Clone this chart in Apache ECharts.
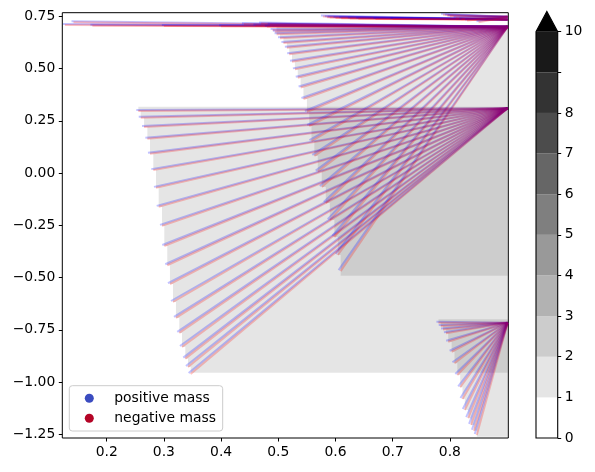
<!DOCTYPE html>
<html>
<head>
<meta charset="utf-8">
<script src="https://cdn.jsdelivr.net/npm/echarts@6/dist/echarts.min.js"></script>
<style>html,body{margin:0;padding:0;background:#fff}#c{width:595px;height:472px}</style>
</head>
<body>
<div id="c"></div>
<script>
// ---------- data ----------
const xTicks = [0.2, 0.3, 0.4, 0.5, 0.6, 0.7, 0.8];
const yTicks = [-1.25, -1.0, -0.75, -0.5, -0.25, 0.0, 0.25, 0.5, 0.75];
const cbarLevels = [0, 1, 2, 3, 4, 5, 6, 7, 8, 9, 10];
const cbarTickLabels = ['0', '1', '2', '3', '4', '5', '6', '7', '8', '', '10'];
const cbarColors = ['#ffffff', '#e5e5e5', '#cccccc', '#b2b2b2', '#999999', '#7f7f7f', '#666666', '#4c4c4c', '#333333', '#191919'];
const cbarExtendColor = '#000000';
const seriesNames = ['positive mass', 'negative mass'];

// fan A (top) : start points converging to hubA
const fanATopX = [0.127, 0.142, 0.175, 0.300, 0.400, 0.440, 0.460, 0.470, 0.480, 0.485, 0.490, 0.494];
const fanATopY = [0.708, 0.722, 0.705, 0.703, 0.702, 0.712, 0.706, 0.715, 0.700, 0.710, 0.685, 0.676];
const fanAX = [0.497, 0.503, 0.509, 0.515, 0.519, 0.524, 0.529, 0.534, 0.539, 0.544, 0.550, 0.554, 0.558, 0.563, 0.569, 0.576, 0.583, 0.590, 0.598, 0.604, 0.609];
const fanAY = [0.664, 0.645, 0.622, 0.600, 0.568, 0.533, 0.496, 0.456, 0.409, 0.354, 0.292, 0.225, 0.153, 0.082, 0.007, -0.067, -0.143, -0.225, -0.306, -0.392, -0.469];
const hubA = [0.901, 0.700];

// fan B (middle)
const fanBX = [0.2553, 0.2595, 0.2653, 0.2711, 0.2757, 0.2815, 0.2862, 0.2909, 0.2967, 0.3007, 0.3059, 0.3106, 0.3159, 0.3211, 0.3269, 0.3316, 0.3374, 0.3421, 0.3468];
const fanBY = [0.297, 0.265, 0.220, 0.164, 0.092, 0.014, -0.071, -0.162, -0.253, -0.349, -0.441, -0.531, -0.617, -0.693, -0.765, -0.832, -0.888, -0.928, -0.961];
const hubB = [0.901, 0.310];

// fan C (bottom)
const fanCX = [0.780, 0.784, 0.788, 0.793, 0.797, 0.803, 0.808, 0.813, 0.818, 0.822, 0.826, 0.832, 0.837, 0.842, 0.847];
const fanCY = [-0.716, -0.732, -0.748, -0.767, -0.807, -0.855, -0.910, -0.966, -1.025, -1.081, -1.134, -1.173, -1.205, -1.233, -1.253];
const hubC = [0.901, -0.716];

// small clusters along the top edge
const fanDX = [0.578, 0.585, 0.590, 0.600, 0.610, 0.625, 0.640, 0.670, 0.700];
const fanDY = [0.749, 0.746, 0.744, 0.742, 0.741, 0.739, 0.738, 0.737, 0.737];
const hubD = [0.901, 0.735];
const fanEX = [0.788, 0.795, 0.800, 0.810, 0.820, 0.830, 0.850];
const fanEY = [0.757, 0.754, 0.750, 0.742, 0.736, 0.730, 0.722];
const hubE = [0.901, 0.748];

// filled density regions (contour bands, level counts)
const regionTopY = [0.700, 0.317, -0.700];
const regionBotY = [-0.491, -0.955, -1.262];

// ---------- build ----------
function fanLines(xs, ys, hub) {
  return xs.map((x, i) => [x, ys[i], hub[0], hub[1]]);
}
const lineData = [].concat(
  fanLines(fanATopX, fanATopY, hubA),
  fanLines(fanAX, fanAY, hubA),
  fanLines(fanBX, fanBY, hubB),
  fanLines(fanCX, fanCY, hubC),
  fanLines(fanDX, fanDY, hubD),
  fanLines(fanEX, fanEY, hubE)
);

function stairs(xs, ys, top, bot, xr) {
  const pts = [[xr, top], [xs[0], top]];
  for (let i = 0; i < xs.length; i++) {
    if (i > 0) pts.push([xs[i], ys[i - 1]]);
    pts.push([xs[i], ys[i]]);
  }
  pts.push([xs[xs.length - 1], bot]);
  pts.push([xr, bot]);
  return pts;
}
const regionPolys = [
  stairs(fanAX, fanAY, regionTopY[0], regionBotY[0], hubA[0]),
  stairs(fanBX, fanBY, regionTopY[1], regionBotY[1], hubB[0]),
  stairs(fanCX, fanCY, regionTopY[2], regionBotY[2], hubC[0])
];

const FONT = 'DejaVu Sans';
const fmtY = v => (v < 0 ? '\u2212' : '') + Math.abs(v).toFixed(2);

// each trajectory: positive-mass (blue) and negative-mass (red) copies, drawn interleaved
function pairRenderer(params, api) {
  const p1 = api.coord([api.value(0), api.value(1)]);
  const p2 = api.coord([api.value(2), api.value(3)]);
  return {
    type: 'group',
    silent: true,
    children: [
      { type: 'line', shape: { x1: p1[0] - 2, y1: p1[1] - 1, x2: p2[0], y2: p2[1] }, style: { stroke: '#0000ff', lineWidth: 2, opacity: 0.24 } },
      { type: 'line', shape: { x1: p1[0], y1: p1[1], x2: p2[0], y2: p2[1] }, style: { stroke: '#ff0000', lineWidth: 2, opacity: 0.24 } }
    ]
  };
}

const chart = echarts.init(document.getElementById('c'), null, { renderer: 'canvas' });
chart.setOption({
  animation: false,
  backgroundColor: '#ffffff',
  textStyle: { fontFamily: FONT },
  grid: [
    { left: 62.3, right: 86.7, top: 12.7, bottom: 34, show: true, borderColor: '#000', borderWidth: 1, backgroundColor: 'transparent' },
    { left: 536, right: 37.3, top: 31.7, bottom: 34, show: false }
  ],
  xAxis: [
    {
      gridIndex: 0, type: 'value', min: 0.1224, max: 0.9021,
      splitLine: { show: false }, axisLine: { show: false, onZero: false },
      axisTick: { show: true, length: 3.5, inside: false, customValues: xTicks, lineStyle: { color: '#000', width: 1 } },
      axisLabel: { customValues: xTicks, margin: 7, color: '#000', fontSize: 13.9, fontFamily: FONT, formatter: v => v.toFixed(1) }
    },
    { gridIndex: 1, type: 'value', min: 0, max: 1, show: false }
  ],
  yAxis: [
    {
      gridIndex: 0, type: 'value', min: -1.2677, max: 0.7672,
      splitLine: { show: false }, axisLine: { show: false, onZero: false },
      axisTick: { show: true, length: 3.5, inside: false, customValues: yTicks, lineStyle: { color: '#000', width: 1 } },
      axisLabel: { customValues: yTicks, margin: 7, color: '#000', fontSize: 13.9, fontFamily: FONT, formatter: fmtY }
    },
    {
      gridIndex: 1, type: 'value', min: 0, max: 10, position: 'right',
      splitLine: { show: false }, axisLine: { show: false, onZero: false },
      axisTick: { show: true, length: 3.5, inside: false, customValues: cbarLevels, lineStyle: { color: '#000', width: 1 } },
      axisLabel: {
        customValues: cbarLevels, margin: 7, color: '#000', fontSize: 13.9, fontFamily: FONT,
        formatter: v => cbarTickLabels[cbarLevels.indexOf(Math.round(v))]
      }
    }
  ],
  legend: {
    data: [
      { name: seriesNames[0], itemStyle: { color: '#3b4cc0', opacity: 1 } },
      { name: seriesNames[1], itemStyle: { color: '#b40426', opacity: 1 } }
    ],
    orient: 'vertical', left: 69.3, top: 385.7,
    icon: 'circle', itemWidth: 9, itemHeight: 9, itemGap: 6,
    padding: [5.6, 6.7, 5.7, 15.5],
    backgroundColor: 'rgba(255,255,255,0.8)', borderColor: '#cccccc', borderWidth: 1, borderRadius: 3,
    selectedMode: false,
    textStyle: { fontSize: 13.9, lineHeight: 14, color: '#000', fontFamily: FONT, padding: [0, 0, 0, 15.5] }
  },
  series: [
    {
      name: 'regions', type: 'custom', xAxisIndex: 0, yAxisIndex: 0, clip: true, z: 1,
      data: regionTopY.map((t, i) => [regionPolys[i][0][0], t]),
      renderItem: function (params, api) {
        const pts = regionPolys[params.dataIndex].map(p => api.coord(p));
        return { type: 'polygon', shape: { points: pts }, style: { fill: 'rgba(0,0,0,0.1)' }, silent: true };
      }
    },
    {
      name: 'trajectories', type: 'custom', xAxisIndex: 0, yAxisIndex: 0, clip: true, z: 3,
      encode: { x: [0, 2], y: [1, 3] },
      data: lineData,
      renderItem: pairRenderer
    },
    // legend entries for the two line families
    { name: seriesNames[0], type: 'custom', xAxisIndex: 0, yAxisIndex: 0, itemStyle: { color: '#3b4cc0' }, data: [], renderItem: () => null },
    { name: seriesNames[1], type: 'custom', xAxisIndex: 0, yAxisIndex: 0, itemStyle: { color: '#b40426' }, data: [], renderItem: () => null },
    {
      name: 'colorbar', type: 'custom', xAxisIndex: 1, yAxisIndex: 1, clip: false, z: 2,
      data: cbarColors.map((c, i) => [0, cbarLevels[i], 1, cbarLevels[i + 1]]),
      encode: { x: [0, 2], y: [1, 3] },
      renderItem: function (params, api) {
        const a = api.coord([api.value(0), api.value(1)]);
        const b = api.coord([api.value(2), api.value(3)]);
        return {
          type: 'rect',
          shape: { x: a[0], y: b[1], width: b[0] - a[0], height: a[1] - b[1] },
          style: { fill: cbarColors[params.dataIndex], stroke: null },
          silent: true
        };
      }
    },
    {
      name: 'colorbar-extend', type: 'custom', xAxisIndex: 1, yAxisIndex: 1, clip: false, z: 2,
      data: [[0, 10]],
      renderItem: function (params, api) {
        const top = cbarLevels[cbarLevels.length - 1];
        const ext = 0.05 * top;
        const p0 = api.coord([0, 0]), p1 = api.coord([1, 0]), p2 = api.coord([1, top]);
        const p3 = api.coord([0.5, top + ext]), p4 = api.coord([0, top]);
        return {
          type: 'group',
          children: [
            { type: 'polygon', shape: { points: [p4, p2, p3] }, style: { fill: cbarExtendColor }, silent: true },
            { type: 'polygon', shape: { points: [p0, p1, p2, p3, p4] }, style: { fill: null, stroke: '#000', lineWidth: 1.1 }, silent: true }
          ]
        };
      }
    }
  ]
});
</script>
</body>
</html>
